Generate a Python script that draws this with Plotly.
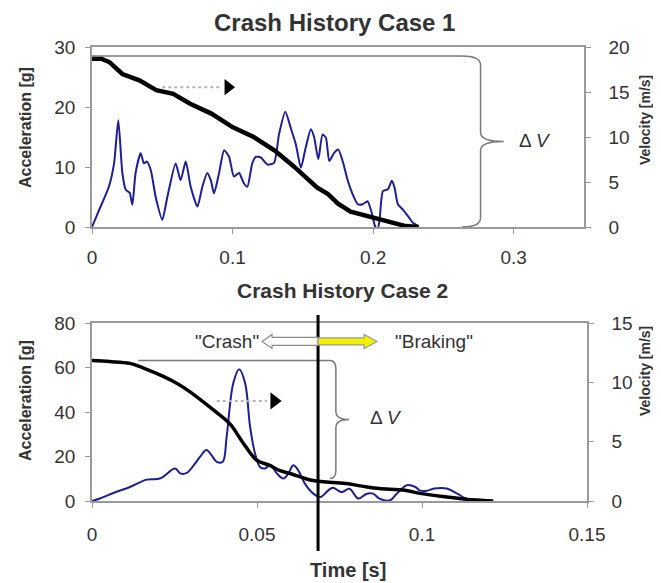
"""Crash history: acceleration and velocity for two crash cases."""

import plotly.graph_objects as go

FONT = "Liberation Sans, Arial, sans-serif"
TXT = "#333333"
AXIS_GRAY = "#9a9a9a"
BLUE = "#1e1e96"
PAGE_W, PAGE_H = 661, 583
BODY = 8  # default page margin around the plot div
W, H = PAGE_W - BODY, PAGE_H - BODY

# ---- Case 1 -----------------------------------------------------------
t_acc1 = [0.000, 0.005, 0.012, 0.0157, 0.0187, 0.0216, 0.024, 0.0268, 0.0287,
          0.031, 0.0346, 0.037, 0.039, 0.0418, 0.0453, 0.050, 0.0536, 0.0595,
          0.063, 0.0667, 0.0702, 0.075, 0.0785, 0.082, 0.0845, 0.0868, 0.0904,
          0.094, 0.0975, 0.101, 0.1046, 0.108, 0.1105, 0.114, 0.1165, 0.120,
          0.1248, 0.1295, 0.133, 0.1375, 0.1414, 0.145, 0.1486, 0.152, 0.1557,
          0.158, 0.161, 0.164, 0.1664, 0.1688, 0.1724, 0.1752, 0.1783, 0.182,
          0.1855, 0.189, 0.1926, 0.196, 0.1986, 0.201, 0.2029, 0.2045, 0.207,
          0.2105, 0.2133, 0.2152, 0.2176, 0.2212, 0.2248, 0.2283, 0.2319]
acc1 = [0.0, 2.8, 6.7, 10.6, 17.8, 9.0, 6.2, 5.7, 3.7,
        9.0, 12.3, 10.6, 10.9, 9.5, 5.0, 1.2, 5.0, 10.6,
        7.8, 10.9, 6.7, 3.4, 6.7, 9.0, 7.8, 5.6, 9.0,
        12.8, 11.7, 8.4, 9.0, 7.3, 6.7, 10.6, 11.7, 11.6,
        10.4, 10.7, 15.4, 19.2, 16.5, 13.8, 9.9, 13.2, 16.3,
        15.0, 11.3, 15.4, 14.9, 11.0, 12.4, 12.9, 11.0, 7.7,
        5.4, 3.8, 3.8, 4.3, 2.7, 0.4, -0.7, 1.0, 6.0,
        6.3, 7.7, 6.6, 3.8, 2.9, 1.8, 0.7, 0.2]

t_vel1 = [0.0, 0.0066, 0.0126, 0.0216, 0.0337, 0.0457, 0.0578, 0.0698, 0.0849,
          0.0999, 0.115, 0.130, 0.1438, 0.160, 0.1676, 0.175, 0.184, 0.1986,
          0.211, 0.215, 0.2232, 0.2324]
vel1 = [18.7, 18.7, 18.3, 17.0, 16.3, 15.2, 14.8, 13.7, 12.6,
        11.1, 10.0, 8.5, 6.7, 4.4, 3.7, 2.6, 1.7, 1.1,
        0.55, 0.37, 0.1, 0.0]

# ---- Case 2 -----------------------------------------------------------
t_acc2 = [0.0, 0.0024, 0.0065, 0.0115, 0.0166, 0.0206, 0.0252, 0.0267, 0.0287,
          0.0312, 0.0327, 0.0347, 0.0362, 0.0378, 0.0396, 0.0408, 0.0428, 0.0446,
          0.0464, 0.0479, 0.0494, 0.0509, 0.0524, 0.054, 0.056, 0.058, 0.0595,
          0.061, 0.0625, 0.0645, 0.0671, 0.0692, 0.0716, 0.073, 0.0756, 0.078,
          0.0807, 0.0833, 0.0852, 0.0871, 0.0903, 0.0922, 0.0954, 0.098, 0.0993,
          0.1012, 0.1037, 0.1075, 0.1107, 0.1133, 0.116, 0.1195]
acc2 = [0.0, 1.1, 3.6, 6.3, 9.6, 10.1, 14.6, 12.4, 12.6,
        16.8, 19.8, 22.9, 20.6, 17.6, 17.6, 28.9, 52.9, 59.2,
        52.9, 33.4, 21.4, 15.3, 14.6, 16.1, 12.4, 10.1, 12.4,
        16.1, 13.8, 7.8, 3.3, 1.8, 4.8, 6.0, 4.0, 5.5,
        1.1, 3.3, 3.3, 1.1, 0.3, 3.0, 7.1, 6.3, 4.8,
        4.5, 5.6, 5.6, 3.3, 1.1, 0.3, 0.0]

t_vel2 = [0.0, 0.0053, 0.0115, 0.0156, 0.0216, 0.0258, 0.0297, 0.0368, 0.0418,
          0.0459, 0.0499, 0.0539, 0.057, 0.0603, 0.067, 0.0769, 0.0833, 0.0871,
          0.0948, 0.0999, 0.1075, 0.115, 0.1216]
vel2 = [11.83, 11.75, 11.6, 11.2, 10.5, 9.9, 9.2, 7.67, 6.5,
        4.85, 3.44, 3.0, 2.55, 2.3, 1.72, 1.47, 1.18, 1.05,
        0.9, 0.62, 0.34, 0.1, 0.0]

T_BRAKE = 0.0685  # crash / braking boundary, case 2

# delta-V brace extents (velocity units)
DV1 = (19.0, 0.0)
DV2 = (11.83, 1.9)


def px_x(px):
    """Page pixel -> paper fraction (x)."""
    return (px - BODY) / W


def px_y(py):
    """Page pixel -> paper fraction (y)."""
    return 1 - (py - BODY) / H


def brace_path(x_start, x_end, x_v, x_tip, top, bot, r):
    mid = (top + bot) / 2
    return (
        f"M{x_start},{top} L{x_end},{top} Q{x_v},{top} {x_v},{top - r} "
        f"L{x_v},{mid + r} Q{x_v},{mid} {x_tip},{mid} "
        f"Q{x_v},{mid} {x_v},{mid - r} "
        f"L{x_v},{bot + r} Q{x_v},{bot} {x_end},{bot}"
    )


fig = go.Figure()

fig.add_trace(go.Scatter(x=t_acc1, y=acc1, mode="lines", xaxis="x", yaxis="y",
                         line={"color": BLUE, "width": 2, "shape": "spline",
                               "smoothing": 0.6},
                         hoverinfo="skip"))
fig.add_trace(go.Scatter(x=t_vel1, y=vel1, mode="lines", xaxis="x", yaxis="y2",
                         line={"color": "black", "width": 4.5}, hoverinfo="skip"))
fig.add_trace(go.Scatter(x=t_acc2, y=acc2, mode="lines", xaxis="x2", yaxis="y3",
                         line={"color": BLUE, "width": 2, "shape": "spline"},
                         hoverinfo="skip"))
fig.add_trace(go.Scatter(x=t_vel2, y=vel2, mode="lines", xaxis="x2", yaxis="y4",
                         line={"color": "black", "width": 3.5, "shape": "spline"},
                         hoverinfo="skip"))

# "velocity axis" arrows: dotted shaft + black head
for xa, ya, x0, x1, y in (("x", "y", 0.05, 0.0925, 23.3),
                          ("x2", "y3", 0.0378, 0.0530, 45.0)):
    fig.add_shape(type="line", xref=xa, yref=ya, x0=x0, x1=x1, y0=y, y1=y,
                  line={"color": "#b5b5b5", "width": 2, "dash": "dot"})
fig.add_trace(go.Scatter(x=[0.0968], y=[23.3], xaxis="x", yaxis="y", mode="markers",
                         marker={"symbol": "triangle-right", "size": 14, "color": "black"},
                         hoverinfo="skip"))
fig.add_trace(go.Scatter(x=[0.0552], y=[45.0], xaxis="x2", yaxis="y3", mode="markers",
                         marker={"symbol": "triangle-right", "size": 15, "color": "black"},
                         hoverinfo="skip"))

# delta-V braces
fig.add_shape(type="path", xref="x", yref="y2",
              path=brace_path(0.0, 0.263, 0.2764, 0.2929, DV1[0], DV1[1], 1.0),
              line={"color": "#7a7a7a", "width": 1.5})
fig.add_shape(type="path", xref="x2", yref="y4",
              path=brace_path(0.014, 0.0721, 0.0739, 0.0779, DV2[0], DV2[1], 0.7),
              line={"color": "#7a7a7a", "width": 1.5})

# crash / braking boundary
fig.add_shape(type="line", xref="x2", yref="paper", x0=T_BRAKE, x1=T_BRAKE,
              y0=px_y(551), y1=px_y(315), line={"color": "black", "width": 3})
fig.add_shape(type="path", xref="x2", yref="y3", xsizemode="pixel", ysizemode="pixel",
              xanchor=T_BRAKE, yanchor=71.7,
              path="M0,4 L-46,4 L-46,7 L-56,0 L-46,-7 L-46,-4 L0,-4 Z",
              fillcolor="white", line={"color": "#8a8a8a", "width": 1.2})
fig.add_shape(type="path", xref="x2", yref="y3", xsizemode="pixel", ysizemode="pixel",
              xanchor=T_BRAKE, yanchor=71.7,
              path="M0,3.5 L46,3.5 L46,7 L59,0 L46,-7 L46,-3.5 L0,-3.5 Z",
              fillcolor="#f2f000", line={"color": "#9a9a9a", "width": 1.2})

labels = [
    ("<b>Crash History Case 1</b>", 334, 23, 24, 0),
    ("<b>Crash History Case 2</b>", 342, 290, 21, 0),
    ("<b>Time [s]</b>", 348, 570, 20, 0),
    ("<b>Acceleration [g]</b>", 25, 128, 16, -90),
    ("<b>Acceleration [g]</b>", 25, 401, 16, -90),
    ("<b>Velocity [m/s]</b>", 645, 120, 14, -90),
    ("<b>Velocity [m/s]</b>", 645, 371, 14, -90),
]
fig_ann = []
for text, x, y, size, angle in labels:
    fig_ann.append(dict(text=text, x=px_x(x), y=px_y(y), xref="paper", yref="paper",
                        xanchor="center", yanchor="middle",
                        showarrow=False, textangle=angle,
                        font={"family": FONT, "size": size, "color": TXT}))

fig_ann += [
    dict(text="Δ <i>V</i>", x=0.315, y=9.6, xref="x", yref="y2", showarrow=False,
         xanchor="center", yanchor="middle",
         font={"family": FONT, "size": 19, "color": TXT}),
    dict(text="Δ <i>V</i>", x=0.0891, y=7.0, xref="x2", yref="y4", showarrow=False,
         xanchor="center", yanchor="middle",
         font={"family": FONT, "size": 19, "color": TXT}),
    dict(text='"Crash"', x=0.0512, y=71.7, xref="x2", yref="y3", xanchor="right",
         yanchor="middle", showarrow=False,
         font={"family": FONT, "size": 19, "color": TXT}),
    dict(text='"Braking"', x=0.0912, y=71.7, xref="x2", yref="y3", xanchor="left",
         yanchor="middle", showarrow=False,
         font={"family": FONT, "size": 19, "color": TXT}),
]

axis_common = dict(showgrid=False, zeroline=False, showline=True, linecolor=AXIS_GRAY,
                   linewidth=1.5, ticks="outside", ticklen=5, tickcolor=AXIS_GRAY,
                   tickfont={"family": FONT, "size": 19, "color": TXT},
                   automargin=False, fixedrange=True)

fig.update_layout(
    width=W, height=H,
    margin={"l": 0, "r": 0, "t": 0, "b": 0},
    template="none",
    showlegend=False,
    paper_bgcolor="white",
    plot_bgcolor="white",
    annotations=fig_ann,
    xaxis=dict(axis_common, domain=[px_x(92), px_x(584)], range=[0, 0.35], dtick=0.1,
               anchor="y", mirror=True, ticklabelstandoff=7),
    yaxis=dict(axis_common, domain=[px_y(227), px_y(47)], range=[0, 30], dtick=10,
               anchor="x", ticklabelstandoff=6),
    yaxis2=dict(axis_common, domain=[px_y(227), px_y(47)], range=[0, 20], dtick=5,
                anchor="x", overlaying="y", side="right", ticklabelstandoff=14),
    xaxis2=dict(axis_common, domain=[px_x(92), px_x(587)], range=[0, 0.15], dtick=0.05,
                anchor="y3", mirror=True, ticklabelstandoff=10),
    yaxis3=dict(axis_common, domain=[px_y(501), px_y(323)], range=[0, 80], dtick=20,
                anchor="x2", ticklabelstandoff=6),
    yaxis4=dict(axis_common, domain=[px_y(501), px_y(323)], range=[0, 15], dtick=5,
                anchor="x2", overlaying="y3", side="right", ticklabelstandoff=14),
)

fig.write_html("out.html")
